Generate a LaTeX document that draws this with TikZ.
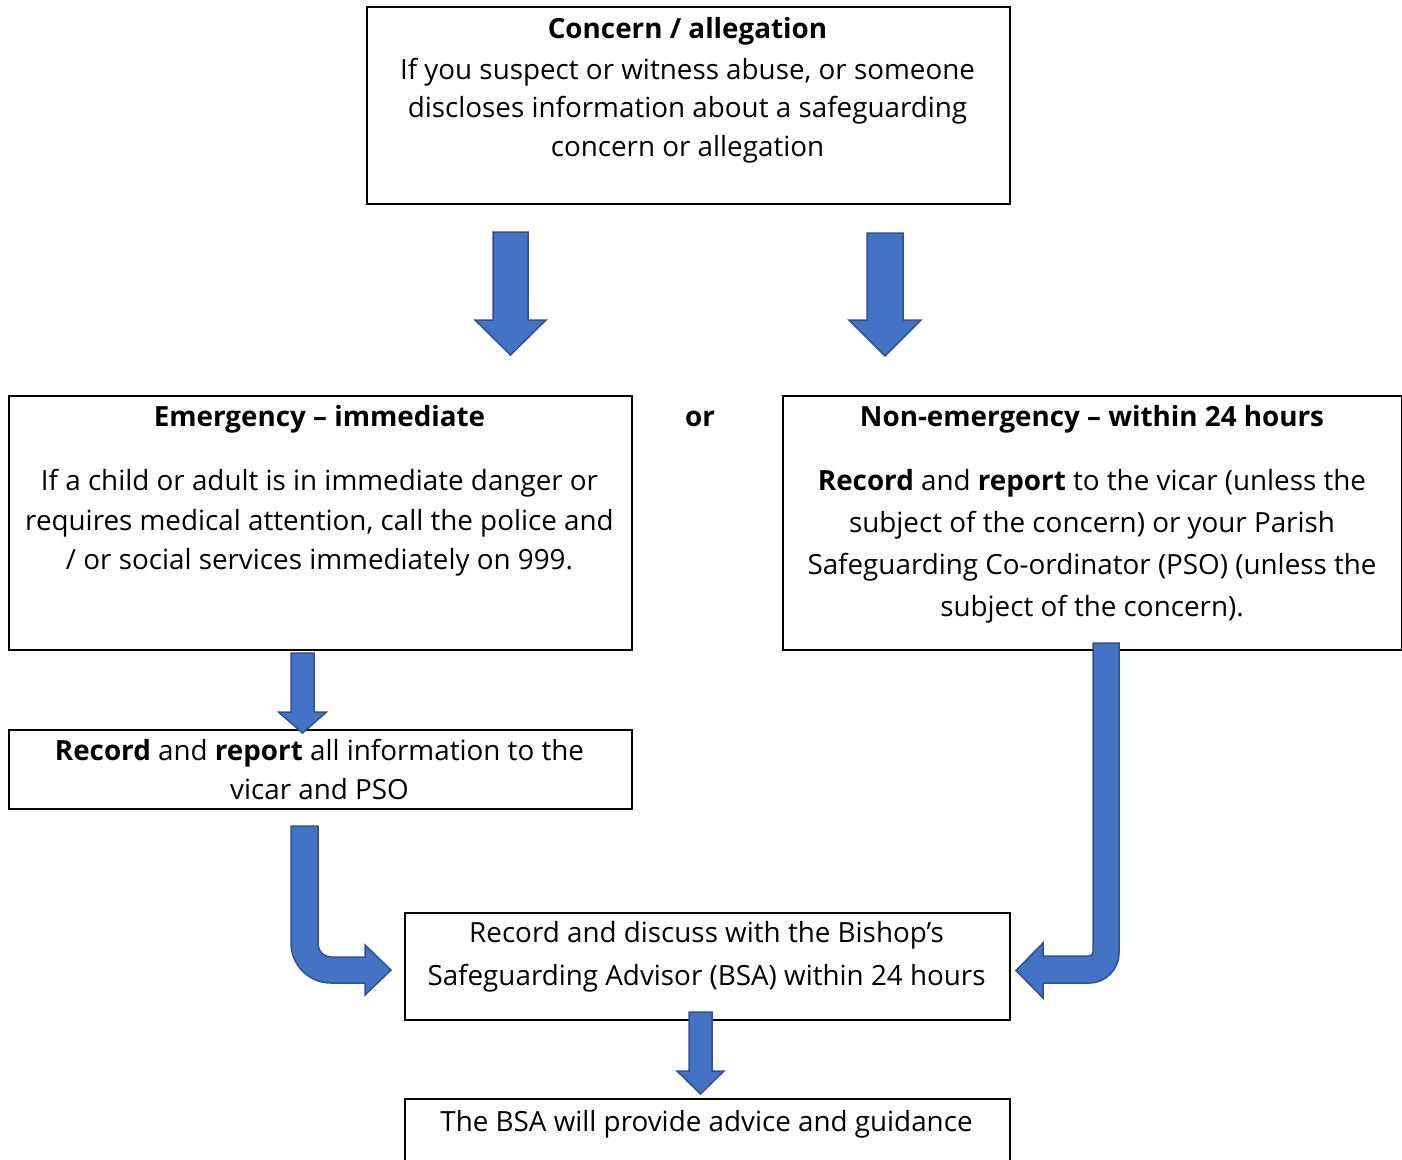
\documentclass[tikz,border=0pt]{standalone}
\usepackage{fontspec}
\setmainfont{Open Sans}
\definecolor{arrfill}{HTML}{4472C4}
\definecolor{arrline}{HTML}{2F528F}
\newcommand\txtsize{\fontsize{27.8}{39}\selectfont}
\newcommand\dnarrow[6]{%
  \filldraw[blockarrow] ({#1-#3},#2) -- ({#1+#3},#2) -- ({#1+#3},#5) -- ({#1+#4},#5)
    -- (#1,#6) -- ({#1-#4},#5) -- ({#1-#3},#5) -- cycle;}
\begin{document}
\begin{tikzpicture}[x=1pt,y=-1pt,
  box/.style={draw=black, line width=2pt, fill=white, anchor=north west, inner sep=0pt},
  txt/.style={anchor=base, inner sep=0pt, font=\txtsize},
  blockarrow/.style={fill=arrfill, draw=arrline, line width=1.5pt, line join=miter}]
\useasboundingbox (0,0) rectangle (1402,1159);
\fill[white] (0,0) rectangle (1402,1159);
% boxes
\node[box, minimum width=643, minimum height=197] (concern) at (366,6) {};
\node[box, minimum width=623, minimum height=254] (emerg) at (8,395) {};
\node[box, minimum width=619, minimum height=254] (nonemerg) at (782,395) {};
\node[box, minimum width=623, minimum height=79] (recleft) at (8,729) {};
\node[box, minimum width=605, minimum height=107] (bsa) at (404,912) {};
\begin{scope}
\clip (0,0) rectangle (1402,1159);
\node[box, minimum width=605, minimum height=90] (advice) at (404,1098) {};
\end{scope}
% texts
\node[txt] (c1) at (687.5,38.5) {\textbf{Concern / allegation}};
\node[txt] (c2) at (687.5,79.5) {If you suspect or witness abuse, or someone};
\node[txt] (c3) at (687.5,117.5) {discloses information about a safeguarding};
\node[txt] (c4) at (687.5,156) {concern or allegation};
\node[txt] (e1) at (319.5,426) {\textbf{Emergency – immediate}};
\node[txt] (e2) at (319.5,490) {If a child or adult is in immediate danger or};
\node[txt] (e3) at (319.5,530) {requires medical attention, call the police and};
\node[txt] (e4) at (319.5,569) {/ or social services immediately on 999.};
\node[txt] (or) at (700,426) {\textbf{or}};
\node[txt] (n1) at (1092,426) {\textbf{Non-emergency – within 24 hours}};
\node[txt] (n2) at (1092,490) {\textbf{Record} and \textbf{report} to the vicar (unless the};
\node[txt] (n3) at (1092,532) {subject of the concern) or your Parish};
\node[txt] (n4) at (1092,574) {Safeguarding Co-ordinator (PSO) (unless the};
\node[txt] (n5) at (1092,616) {subject of the concern).};
\node[txt] (r1) at (319.5,760) {\textbf{Record} and \textbf{report} all information to the};
\node[txt] (r2) at (319.5,799) {vicar and PSO};
\node[txt] (b1) at (706.5,942) {Record and discuss with the Bishop’s};
\node[txt] (b2) at (706.5,985) {Safeguarding Advisor (BSA) within 24 hours};
\node[txt] (a1) at (706.5,1131) {The BSA will provide advice and guidance};
% straight block arrows
\dnarrow{510.5}{232}{17.5}{35.5}{320}{355}
\dnarrow{885}{233}{18}{36}{320}{356}
\dnarrow{302.5}{653}{11.5}{24}{712}{733}
\dnarrow{700.5}{1012}{11.5}{23.5}{1071}{1094}
% bent block arrow (left)
\filldraw[blockarrow] (291,826) -- (291,943) .. controls (291,965.1) and (308.9,983) .. (331,983)
  -- (365,983) -- (365,995) -- (391,970) -- (365,945) -- (365,957) -- (331,957)
  .. controls (323.8,957) and (318,951.2) .. (318,944) -- (318,826) -- cycle;
% bent block arrow (right)
\filldraw[blockarrow] (1119,643) -- (1119,953) .. controls (1119,969.6) and (1105.6,983) .. (1089,983)
  -- (1043,983) -- (1043,998) -- (1016,970.5) -- (1043,943) -- (1043,956) -- (1089,956)
  .. controls (1091.2,956) and (1093,954.2) .. (1093,952) -- (1093,643) -- cycle;
\end{tikzpicture}
\end{document}
